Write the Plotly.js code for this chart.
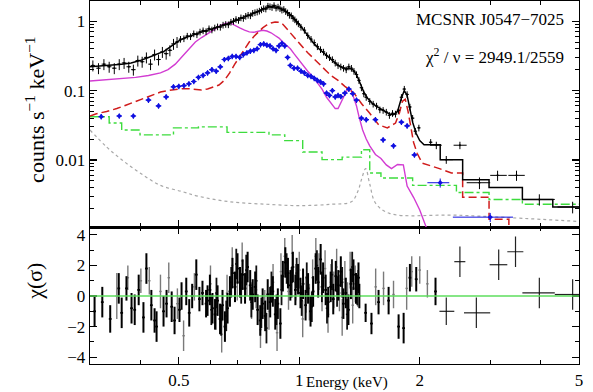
<!DOCTYPE html>
<html>
<head>
<meta charset="utf-8">
<script src="https://cdn.plot.ly/plotly-3.0.1.min.js"></script>
<style>
  body { margin: 0; background: #fff; }
  #grafico { width: 593px; height: 392px; }
</style>
</head>
<body>
<div id="grafico"></div>
<script>
const modeloE = [0.30,0.32,0.34,0.36,0.38,0.40,0.42,0.44,0.46,0.48,0.50,0.52,0.54,0.56,0.58,0.60,0.62,0.64,0.66,0.68,0.70,0.72,0.74,0.76,0.78,0.80,0.82,0.84,0.86,0.88,0.90,0.92,0.94,0.96,0.98,1.00,1.03,1.06,1.09,1.12,1.15,1.18,1.21,1.24,1.27,1.30,1.33,1.36,1.39,1.42,1.45,1.48,1.52,1.56,1.60,1.64,1.68,1.72,1.76,1.80,1.83,1.86,1.89,1.92,1.96,2.00,2.05,2.25,2.25,2.56,2.56,2.98,2.98,3.61,3.61,4.30,4.30,5.00];
const modeloY = [0.22,0.225,0.23,0.24,0.25,0.27,0.30,0.33,0.37,0.44,0.52,0.58,0.63,0.67,0.72,0.76,0.80,0.85,0.90,0.97,1.05,1.12,1.18,1.25,1.33,1.42,1.52,1.60,1.62,1.58,1.52,1.42,1.30,1.18,1.02,0.90,0.72,0.58,0.47,0.40,0.35,0.31,0.27,0.24,0.22,0.21,0.21,0.20,0.17,0.13,0.095,0.078,0.066,0.059,0.054,0.050,0.046,0.045,0.050,0.078,0.10,0.085,0.055,0.035,0.024,0.019,0.0165,0.0165,0.0101,0.0101,0.0052,0.0052,0.0040,0.0040,0.0027,0.0027,0.0021,0.0021];

const pnE = [0.305,0.315,0.325,0.335,0.345,0.355,0.365,0.375,0.385,0.395,0.405,0.415,0.425,0.435,0.445,0.455,0.465,0.475,0.485,0.495,0.505,0.515,0.525,0.535,0.545,0.555,0.565,0.575,0.585,0.595,0.605,0.615,0.625,0.635,0.645,0.655,0.665,0.675,0.685,0.695,0.705,0.715,0.725,0.735,0.745,0.755,0.765,0.775,0.785,0.795,0.805,0.815,0.825,0.835,0.845,0.855,0.865,0.875,0.885,0.895,0.905,0.915,0.925,0.935,0.945,0.955,0.965,0.975,0.985,0.995,1.01,1.03,1.05,1.07,1.09,1.11,1.13,1.15,1.17,1.19,1.21,1.23,1.25,1.27,1.29,1.31,1.33,1.35,1.37,1.39,1.41,1.43,1.45,1.47,1.50,1.53,1.56,1.59,1.62,1.65,1.68,1.71,1.74,1.77,1.80,1.83,1.86,1.89,1.92,1.95,1.99,2.13];
const pnY = [0.23,0.21,0.24,0.22,0.21,0.24,0.25,0.22,0.20,0.27,0.26,0.30,0.24,0.33,0.28,0.36,0.34,0.38,0.47,0.50,0.55,0.56,0.61,0.60,0.66,0.64,0.70,0.73,0.71,0.78,0.75,0.80,0.83,0.82,0.88,0.90,0.89,0.97,1.0,1.06,1.03,1.12,1.10,1.18,1.22,1.20,1.30,1.33,1.36,1.40,1.46,1.52,1.50,1.65,1.62,1.58,1.68,1.55,1.60,1.52,1.45,1.48,1.38,1.32,1.22,1.20,1.10,1.05,0.98,0.92,0.82,0.74,0.62,0.55,0.49,0.43,0.39,0.36,0.32,0.30,0.28,0.25,0.23,0.22,0.21,0.20,0.22,0.21,0.19,0.17,0.14,0.11,0.090,0.080,0.070,0.064,0.060,0.053,0.052,0.049,0.044,0.047,0.046,0.052,0.080,0.105,0.088,0.058,0.040,0.026,0.029,0.018];
const pnColaE = [2.2,2.33,2.52,2.82,3.13,3.49,3.98,4.82];
const pnColaY = [0.0163,0.0101,0.0163,0.0047,0.006,0.006,0.0027,0.0021];
const pnColaXm = [0.07,0.08,0.09,0.2,0.13,0.16,0.37,0.4];
const pnColaXp = [0.07,0.09,0.1,0.18,0.17,0.17,0.37,0.18];
const pnColaErr = [0.002,0.0013,0.002,0.0009,0.001,0.001,0.0005,0.0004];

const mosE = [0.32,0.355,0.385,0.42,0.445,0.465,0.485,0.50,0.515,0.53,0.545,0.56,0.575,0.59,0.605,0.62,0.635,0.65,0.665,0.68,0.695,0.71,0.725,0.74,0.755,0.77,0.785,0.80,0.815,0.83,0.845,0.86,0.875,0.89,0.905,0.92,0.935,0.95,0.97,0.99,1.01,1.03,1.05,1.07,1.09,1.11,1.13,1.15,1.17,1.19,1.21,1.23,1.25,1.27,1.30,1.33,1.36,1.39,1.43,1.47,1.55,1.62,1.72,1.80,1.86,1.94];
const mosY = [0.042,0.043,0.043,0.073,0.060,0.081,0.113,0.115,0.118,0.125,0.135,0.155,0.165,0.18,0.20,0.19,0.22,0.28,0.29,0.31,0.31,0.30,0.33,0.35,0.37,0.38,0.40,0.46,0.47,0.45,0.44,0.40,0.38,0.44,0.48,0.44,0.30,0.23,0.21,0.21,0.19,0.18,0.165,0.16,0.15,0.14,0.133,0.125,0.092,0.085,0.10,0.081,0.085,0.082,0.092,0.105,0.09,0.073,0.040,0.038,0.038,0.0195,0.016,0.035,0.031,0.0118];
const mosColaE = [2.25,3.0];
const mosColaY = [0.0047,0.0015];
const mosColaXm = [0.16,0.58];
const mosColaXp = [0.12,0.42];

const rojoE = [0.30,0.31,0.33,0.35,0.37,0.39,0.41,0.43,0.45,0.47,0.49,0.51,0.53,0.55,0.57,0.59,0.61,0.63,0.65,0.67,0.69,0.71,0.73,0.75,0.77,0.79,0.81,0.83,0.85,0.87,0.89,0.91,0.93,0.95,0.97,0.99,1.02,1.05,1.08,1.11,1.14,1.17,1.20,1.25,1.30,1.37,1.43,1.50,1.58,1.66,1.74,1.78,1.81,1.84,1.87,1.90,1.93,1.97,2.03,2.24,2.40,2.56,2.56,2.98,2.98,3.34,3.34];
const rojoY = [0.043,0.046,0.050,0.055,0.062,0.070,0.078,0.087,0.095,0.100,0.104,0.106,0.106,0.104,0.102,0.105,0.112,0.120,0.14,0.18,0.24,0.31,0.40,0.50,0.60,0.70,0.80,0.88,0.94,0.97,0.96,0.90,0.78,0.67,0.58,0.50,0.42,0.35,0.30,0.26,0.22,0.19,0.165,0.14,0.115,0.092,0.065,0.047,0.032,0.029,0.034,0.048,0.070,0.075,0.050,0.030,0.018,0.0125,0.009,0.0075,0.0065,0.0065,0.0029,0.0029,0.0014,0.0014,0.0005];

const magentaE = [0.30,0.33,0.36,0.39,0.42,0.45,0.47,0.49,0.51,0.53,0.55,0.57,0.59,0.61,0.63,0.65,0.67,0.69,0.71,0.73,0.75,0.77,0.79,0.81,0.83,0.85,0.87,0.89,0.91,0.93,0.95,0.97,0.99,1.02,1.05,1.08,1.11,1.14,1.17,1.20,1.23,1.25,1.27,1.29,1.31,1.33,1.35,1.37,1.39,1.41,1.44,1.47,1.50,1.55,1.60,1.65,1.70,1.76,1.82,1.86,1.93,2.00,2.10];
const magentaY = [0.137,0.142,0.148,0.155,0.165,0.18,0.20,0.24,0.31,0.40,0.50,0.58,0.65,0.74,0.84,0.92,0.95,0.88,0.80,0.74,0.70,0.69,0.72,0.74,0.72,0.68,0.62,0.57,0.50,0.44,0.40,0.34,0.29,0.23,0.19,0.16,0.13,0.105,0.08,0.065,0.055,0.055,0.065,0.08,0.097,0.108,0.10,0.08,0.06,0.042,0.027,0.02,0.016,0.012,0.0105,0.0085,0.0075,0.0086,0.0085,0.0042,0.0029,0.0019,0.0009];

const verdeE = [0.30,0.335,0.36,0.40,0.485,0.56,0.66,0.84,0.92,1.02,1.14,1.28,1.43,1.50,1.60,1.92,2.47,2.98,3.61,5.00];
const verdeY = [0.042,0.034,0.027,0.023,0.029,0.030,0.025,0.023,0.019,0.013,0.0101,0.011,0.014,0.0065,0.0055,0.0043,0.0034,0.0027,0.0023,0.0023];

const grisE = [0.30,0.33,0.36,0.40,0.45,0.51,0.56,0.67,0.83,1.0,1.2,1.35,1.40,1.43,1.465,1.50,1.55,1.68,2.5,5.0];
const grisY = [0.027,0.0154,0.0101,0.0065,0.0043,0.0035,0.0030,0.0025,0.0023,0.0022,0.0023,0.0025,0.0035,0.0052,0.0075,0.0045,0.0024,0.0017,0.0016,0.0013];

// residuos chi
const resNegroE = [0.308,0.322,0.337,0.354,0.36,0.37,0.381,0.388,0.397,0.408,0.415,0.427,0.435,0.44,0.458,0.466,0.48,0.488,0.502,0.508,0.522,0.531,0.54,0.553,0.563,0.573,0.585,
  0.59,0.598,0.607,0.616,0.625,0.634,0.643,0.652,0.662,0.671,0.681,0.691,0.701,0.711,0.722,0.732,0.743,0.754,0.765,0.776,0.787,0.799,0.81,0.822,0.834,0.846,0.859,0.871,0.884,0.897,0.91,0.923,0.937,0.95,0.964,0.978,0.993,1.007,1.022,1.037,1.052,1.067,1.083,1.099,1.115,1.131,1.147,1.164,1.181,1.198,1.216,1.234,1.252,1.27,1.289,1.307,1.327,1.346,1.366,1.386,1.406,
  1.413,1.465,1.515,1.578,1.672,1.771,1.823,1.89,1.96,2.19];
const resNegroV = [-1.0,-0.4,-1.5,0.5,-1.1,0.5,-0.8,-0.9,0.4,-1.4,1.8,-0.6,-1.6,-2.0,-1.0,-0.5,-0.7,-1.6,-0.9,0.0,0.3,-1.1,0.0,1.4,-0.2,0.2,-0.5,
  -0.3,0.4,-0.8,-1.2,-0.3,-1.5,-0.6,-2.0,-0.8,0.3,1.5,0.6,1.8,0.9,1.4,0.5,1.9,0.7,0.1,0.6,-0.9,-1.6,-0.5,-1.3,0.1,-0.4,0.3,-1.2,-0.5,-1.8,1.3,2.2,1.5,0.7,1.9,0.4,1.1,0.2,0.8,-0.6,0.5,-1.0,0.3,1.8,0.9,2.4,1.2,0.4,-0.4,0.6,-0.2,1.3,0.7,1.6,-0.5,0.2,-0.9,0.8,1.4,0.5,1.2,
  0.0,-1.1,-1.8,-0.4,-0.3,-2.0,-2.1,1.2,1.1,0.3];
const resNegroErr = [1.0,1.0,0.9,1.0,1.0,0.8,1.0,1.0,1.0,1.0,1.0,1.0,0.8,1.0,1.0,0.9,1.0,0.9,0.8,0.9,0.9,0.9,0.8,1.0,0.8,0.8,0.9,
  1.0,1.0,1.0,1.0,1.0,1.0,1.0,1.0,1.0,1.0,1.0,1.0,1.0,1.0,1.0,1.0,1.0,1.0,1.0,1.0,1.0,1.0,1.0,1.0,1.0,1.0,1.0,1.0,1.0,1.0,1.0,1.0,1.0,1.0,1.0,1.0,1.0,1.0,1.0,1.0,1.0,1.0,1.0,1.0,1.0,1.0,1.0,1.0,1.0,1.0,1.0,1.0,1.0,1.0,1.0,1.0,1.0,1.0,1.0,1.0,1.0,
  0.8,0.6,0.7,0.8,0.9,0.8,1.0,0.9,0.8,0.9];
const resExtraE = [0.603,0.621,0.638,0.657,0.676,0.696,0.716,0.737,0.759,0.781,0.804,0.828,0.852,0.877,0.903,0.930,0.957,0.985,1.014,1.044,1.075,1.107,1.139,1.173,1.207,1.243,1.280,1.317,1.356,1.396];
const resExtraV = [-0.9,0.2,-1.6,-1.3,0.9,2.1,0.5,1.7,-0.4,1.0,-1.1,-2.1,0.6,-0.9,0.4,1.8,0.9,1.5,-0.3,1.2,-0.7,2.0,0.6,-0.8,1.4,0.3,0.9,-1.2,1.9,0.4];

const resGrisE = [0.35,0.373,0.402,0.422,0.45,0.472,0.496,0.514,0.547,
  0.60,0.62,0.64,0.66,0.68,0.70,0.72,0.74,0.76,0.78,0.80,0.82,0.84,0.86,0.88,0.90,0.92,0.94,0.96,0.98,1.00,1.02,1.04,1.06,1.08,1.10,1.12,1.14,1.16,1.18,1.20,1.22,1.24,1.26,1.28,1.30,1.32,1.34,1.36,1.38,1.40,
  1.552,1.624,1.72,1.855,1.91,2.0,2.09];
const resGrisV = [0.0,1.2,1.0,1.0,0.3,1.2,-0.5,-2.6,0.6,
  0.8,-1.0,-2.5,0.2,2.0,0.9,2.3,1.2,-0.3,0.4,-2.2,-0.8,-1.0,0.9,-2.4,1.6,2.6,0.3,2.8,0.9,1.7,-1.5,0.1,-0.4,1.2,2.6,1.6,0.2,1.8,-1.2,0.9,0.4,1.9,0.2,-1.4,1.1,-0.3,1.7,-0.6,0.8,0.5,
  0.6,0.5,0.1,0.5,1.6,1.7,0.8];
const resGrisErr = [1.5,0.8,0.8,0.9,1.1,1.0,1.0,1.0,0.9,
  1.2,1.2,1.2,1.2,1.2,1.2,1.2,1.2,1.2,1.2,1.2,1.2,1.2,1.2,1.2,1.2,1.2,1.2,1.2,1.2,1.2,1.2,1.2,1.2,1.2,1.2,1.2,1.2,1.2,1.2,1.2,1.2,1.2,1.2,1.2,1.2,1.2,1.2,1.2,1.2,1.2,
  1.2,1.1,0.9,1.4,1.0,0.9,0.9];

const resColaE = [2.33,2.52,2.77,3.15,3.47,3.98,4.82];
const resColaV = [-1.0,2.25,-1.1,2.05,2.9,0.2,0.1];
const resColaXm = [0.09,0.08,0.19,0.16,0.16,0.37,0.47];
const resColaXp = [0.11,0.08,0.23,0.16,0.16,0.37,0.18];
const resColaErr = [0.9,1.0,1.0,1.0,1.0,1.0,1.0];

const xTicks = [0.5, 1, 2, 5];
const xMinor = [0.3, 0.4, 0.6, 0.7, 0.8, 0.9, 3, 4];
const yTicks = [0.01, 0.1, 1];
const yTickText = ['0.01', '0.1', '1'];

const SERIF = "'Liberation Serif', 'Times New Roman', serif";
const CORTE_PN = 20; // primeros bines pn, con errores mas grandes

function menoresLog() {
    const v = [];
    [0.001, 0.01, 0.1, 1].forEach(d => {
        for (let k = 2; k <= 9; k++) v.push(d * k);
    });
    return v;
}

function errores(color, xArr, grosor) {
    return { type: 'data', array: xArr, color: color, thickness: grosor, width: 0, visible: true };
}

const trazas = [
    // modelos
    { x: grisE, y: grisY, type: 'scatter', mode: 'lines', xaxis: 'x2', yaxis: 'y',
      line: { color: '#a8a8a8', width: 1.2, dash: 'dot', shape: 'spline' } },
    { x: verdeE, y: verdeY, type: 'scatter', mode: 'lines', xaxis: 'x2', yaxis: 'y',
      line: { color: '#3ddc3d', width: 1.4, dash: 'dashdot', shape: 'hv' } },
    { x: magentaE, y: magentaY, type: 'scatter', mode: 'lines', xaxis: 'x2', yaxis: 'y',
      line: { color: '#d23cd2', width: 1.4 } },
    { x: rojoE, y: rojoY, type: 'scatter', mode: 'lines', xaxis: 'x2', yaxis: 'y',
      line: { color: '#d01c1c', width: 1.5, dash: '8px,4px' } },
    { x: modeloE, y: modeloY, type: 'scatter', mode: 'lines', xaxis: 'x2', yaxis: 'y',
      line: { color: '#000', width: 1.5 } },
    // datos MOS (azul)
    { x: mosE, y: mosY, type: 'scatter', mode: 'markers', xaxis: 'x2', yaxis: 'y',
      marker: { symbol: 'diamond', size: 4, color: '#1010e0' },
      error_y: { type: 'percent', value: 9, color: '#1010e0', thickness: 1.2, width: 0 },
      error_x: { type: 'percent', value: 1.6, color: '#1010e0', thickness: 1.2, width: 0 } },
    { x: mosColaE, y: mosColaY, type: 'scatter', mode: 'markers', xaxis: 'x2', yaxis: 'y',
      marker: { symbol: 'diamond', size: 4, color: '#1010e0' },
      error_y: { type: 'percent', value: 15, color: '#1010e0', thickness: 1, width: 0 },
      error_x: { type: 'data', array: mosColaXp, arrayminus: mosColaXm, color: '#1010e0', thickness: 1, width: 0 } },
    // datos pn (negro)
    { x: pnE.slice(0, CORTE_PN), y: pnY.slice(0, CORTE_PN), type: 'scatter', mode: 'markers', xaxis: 'x2', yaxis: 'y',
      marker: { size: 2, color: '#000' },
      error_y: { type: 'percent', value: 18, color: '#000', thickness: 1, width: 0 },
      error_x: { type: 'percent', value: 1.3, color: '#000', thickness: 1, width: 0 } },
    { x: pnE.slice(CORTE_PN), y: pnY.slice(CORTE_PN), type: 'scatter', mode: 'markers', xaxis: 'x2', yaxis: 'y',
      marker: { size: 2, color: '#000' },
      error_y: { type: 'percent', value: 11, color: '#000', thickness: 1, width: 0 },
      error_x: { type: 'percent', value: 1.0, color: '#000', thickness: 1, width: 0 } },
    { x: pnColaE, y: pnColaY, type: 'scatter', mode: 'markers', xaxis: 'x2', yaxis: 'y',
      marker: { size: 2, color: '#000' },
      error_y: errores('#000', pnColaErr, 1),
      error_x: { type: 'data', array: pnColaXp, arrayminus: pnColaXm, color: '#000', thickness: 1, width: 0 } },
    // residuos
    { x: resGrisE, y: resGrisV, type: 'scatter', mode: 'markers', xaxis: 'x', yaxis: 'y2',
      marker: { size: 1, color: '#777' },
      error_y: errores('#7a7a7a', resGrisErr, 1.4),
      error_x: { type: 'percent', value: 0.7, color: '#7a7a7a', thickness: 1.4, width: 0 } },
    { x: resExtraE, y: resExtraV, type: 'scatter', mode: 'markers', xaxis: 'x', yaxis: 'y2',
      marker: { size: 1, color: '#000' },
      error_y: { type: 'constant', value: 1.0, color: '#111', thickness: 1.8, width: 0 },
      error_x: { type: 'percent', value: 0.7, color: '#111', thickness: 1.6, width: 0 } },
    { x: resNegroE, y: resNegroV, type: 'scatter', mode: 'markers', xaxis: 'x', yaxis: 'y2',
      marker: { size: 1, color: '#000' },
      error_y: errores('#000', resNegroErr, 2),
      error_x: { type: 'percent', value: 0.8, color: '#000', thickness: 1.8, width: 0 } },
    { x: resColaE, y: resColaV, type: 'scatter', mode: 'markers', xaxis: 'x', yaxis: 'y2',
      marker: { size: 1, color: '#000' },
      error_y: errores('#222', resColaErr, 1.2),
      error_x: { type: 'data', array: resColaXp, arrayminus: resColaXm, color: '#222', thickness: 1.2, width: 0 } }
];

const ejeX = {
    type: 'log',
    range: [Math.log10(0.3), Math.log10(5)],
    showline: true, linecolor: '#000', linewidth: 1.3, mirror: 'allticks',
    ticks: 'inside', ticklen: 7, tickwidth: 1.1, tickcolor: '#000',
    tickvals: xTicks, ticktext: xTicks.map(String),
    minor: { ticks: 'inside', ticklen: 4, tickwidth: 1, tickcolor: '#000', tickvals: xMinor, showgrid: false },
    showgrid: false, zeroline: false,
    tickfont: { family: SERIF, size: 17, color: '#000' }
};

const layout = {
    width: 593, height: 392,
    margin: { l: 90, r: 14, t: 1, b: 28 },
    paper_bgcolor: '#fff', plot_bgcolor: '#fff',
    showlegend: false,
    font: { family: SERIF, color: '#000' },
    xaxis: Object.assign({}, ejeX, { anchor: 'y2', domain: [0, 1] }),
    xaxis2: Object.assign({}, ejeX, { anchor: 'y', matches: 'x', showticklabels: false }),
    yaxis: {
        type: 'log', domain: [0.3766, 1], anchor: 'x2',
        range: [-2.97, 0.29],
        showline: true, linecolor: '#000', linewidth: 1.3, mirror: 'allticks',
        ticks: 'inside', ticklen: 7, tickwidth: 1.1, tickcolor: '#000',
        tickvals: yTicks, ticktext: yTickText,
        minor: { ticks: 'inside', ticklen: 4, tickwidth: 1, tickcolor: '#000', tickvals: menoresLog(), showgrid: false },
        showgrid: false, zeroline: false,
        tickfont: { family: SERIF, size: 17, color: '#000' }
    },
    yaxis2: {
        domain: [0, 0.3766], anchor: 'x',
        range: [-4.45, 4.5],
        showline: true, linecolor: '#000', linewidth: 1.3, mirror: 'allticks',
        ticks: 'inside', ticklen: 7, tickwidth: 1.1, tickcolor: '#000',
        tickvals: [-4, -2, 0, 2, 4],
        minor: { ticks: 'inside', ticklen: 4, tickwidth: 1, tickcolor: '#000', dtick: 1, showgrid: false },
        showgrid: false, zeroline: false,
        tickfont: { family: SERIF, size: 17, color: '#000' }
    },
    shapes: [
        { type: 'line', xref: 'paper', x0: 0, x1: 1, yref: 'y2', y0: 0, y1: 0,
          line: { color: '#5ede5e', width: 1.6 } }
    ],
    annotations: [
        { text: 'counts s<sup>−1</sup> keV<sup>−1</sup>', textangle: -90, xref: 'paper', yref: 'paper',
          x: -0.1125, y: 0.70, xanchor: 'center', yanchor: 'middle', showarrow: false,
          font: { family: SERIF, size: 22, color: '#000' } },
        { text: 'χ(σ)', textangle: -90, xref: 'paper', yref: 'paper',
          x: -0.1125, y: 0.229, xanchor: 'center', yanchor: 'middle', showarrow: false,
          font: { family: SERIF, size: 22, color: '#000' } },
        { text: 'Energy (keV)', xref: 'paper', yref: 'paper',
          x: 0.526, y: -0.052, xanchor: 'center', yanchor: 'middle', showarrow: false,
          font: { family: SERIF, size: 15, color: '#000' } },
        { text: 'MCSNR J0547−7025', xref: 'paper', yref: 'paper',
          x: 0.973, y: 0.948, xanchor: 'right', yanchor: 'middle', showarrow: false,
          font: { family: SERIF, size: 17, color: '#000' } },
        { text: 'χ<sup>2</sup> / ν = 2949.1/2559', xref: 'paper', yref: 'paper',
          x: 0.973, y: 0.848, xanchor: 'right', yanchor: 'middle', showarrow: false,
          font: { family: SERIF, size: 17, color: '#000' } }
    ]
};

Plotly.newPlot('grafico', trazas, layout, { staticPlot: true, displayModeBar: false });
</script>
</body>
</html>
